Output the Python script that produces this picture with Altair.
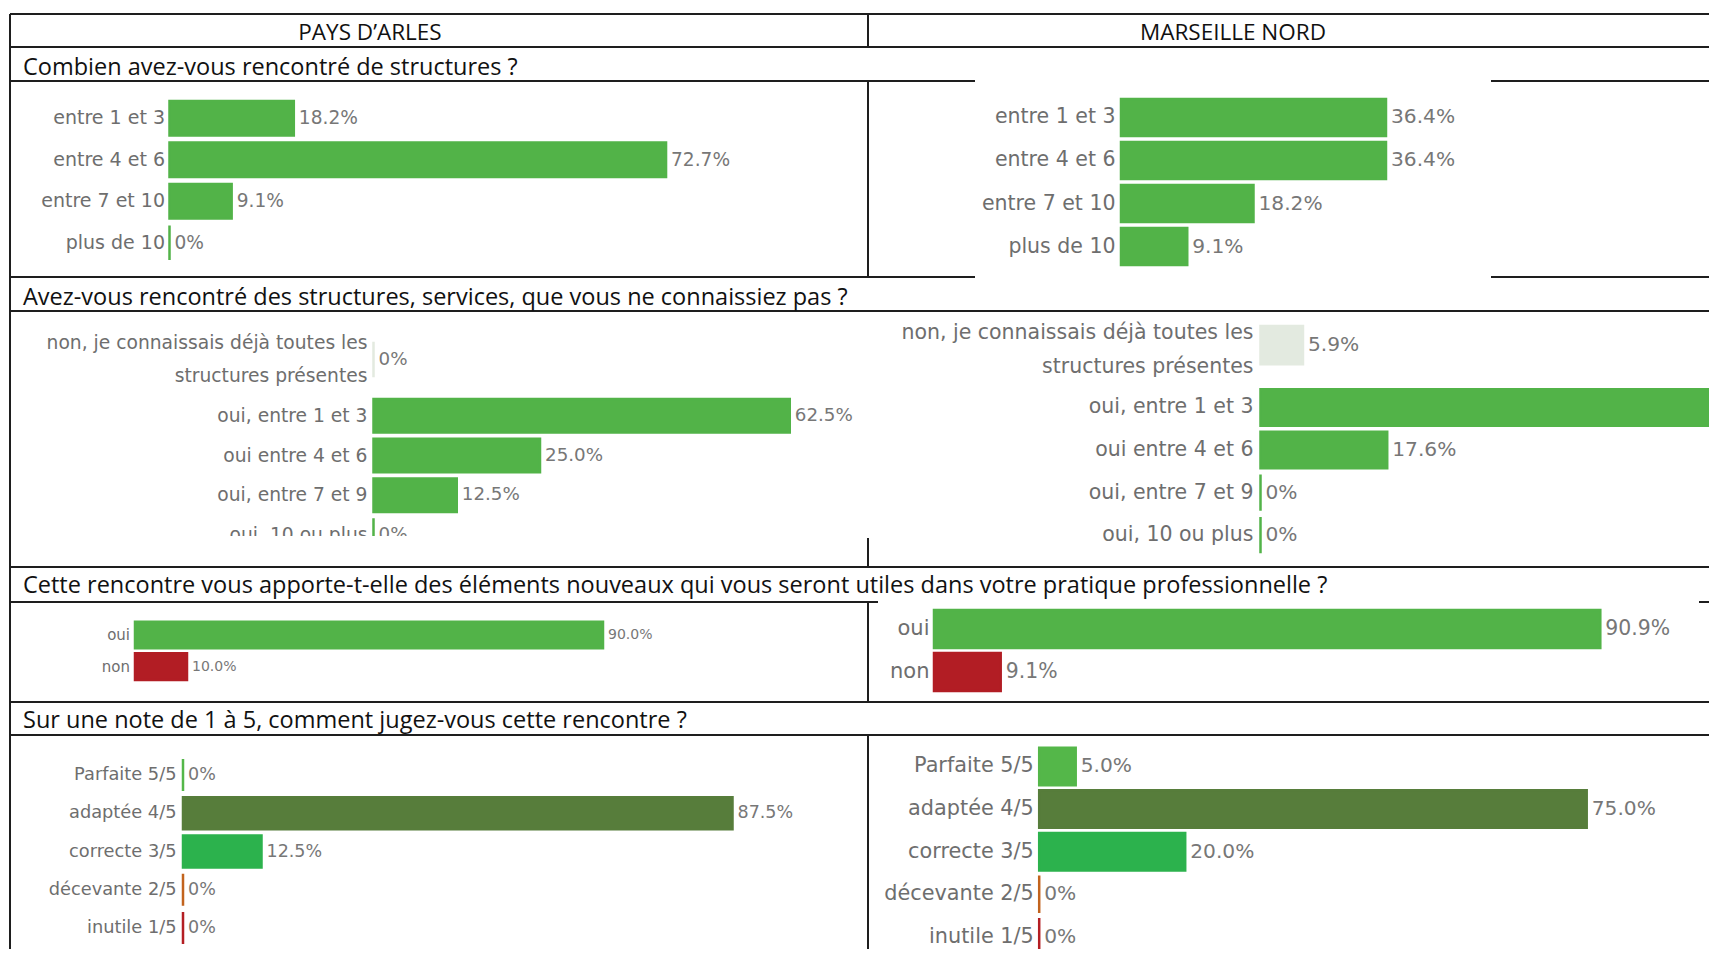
import altair as alt
import pandas as pd

# ---------------- data ----------------
columns = ["PAYS D’ARLES", "MARSEILLE NORD"]
questions = [
    "Combien avez-vous rencontré de structures ?",
    "Avez-vous rencontré des structures, services, que vous ne connaissiez pas ?",
    "Cette rencontre vous apporte-t-elle des éléments nouveaux qui vous seront utiles dans votre pratique professionnelle ?",
    "Sur une note de 1 à 5, comment jugez-vous cette rencontre ?",
]
q1_cats = ["entre 1 et 3", "entre 4 et 6", "entre 7 et 10", "plus de 10"]
q1_arles = [18.2, 72.7, 9.1, 0]
q1_marseille = [36.4, 36.4, 18.2, 9.1]

q2_cats = ["non, je connaissais déjà toutes les|structures présentes",
           "oui, entre 1 et 3", "oui entre 4 et 6", "oui, entre 7 et 9", "oui, 10 ou plus"]
q2_arles = [0, 62.5, 25.0, 12.5, 0]
q2_marseille = [5.9, 76.5, 17.6, 0, 0]

q3_cats = ["oui", "non"]
q3_arles = [90.0, 10.0]
q3_marseille = [90.9, 9.1]

q4_cats = ["Parfaite 5/5", "adaptée 4/5", "correcte 3/5", "décevante 2/5", "inutile 1/5"]
q4_arles = [0, 87.5, 12.5, 0, 0]
q4_marseille = [5.0, 75.0, 20.0, 0, 0]

# ---------------- styles ----------------
GREEN = "#52b348"
q1_colors = [GREEN] * 4
q2_colors = ["#e3eae0", GREEN, GREEN, GREEN, GREEN]
q3_colors = [GREEN, "#b21d24"]
q4_colors = ["#54b749", "#577d3b", "#2cb24d", "#c2631d", "#b41e23"]

LF = "DejaVu Sans"
TF = "Open Sans"
OX, OY = 8, 8          # page margin
W, H = 1701, 941       # keep the page from overflowing the window

def panel(cats, vals, colors, x0, k, y0, y1, pad, lab_r, lfs, vfs, line_h=None, dy=0):
    df = pd.DataFrame({"cat": cats, "value": vals, "color": colors})
    xs = alt.Scale(domain=[0, 100], range=[x0 - OX, x0 - OX + 100 * k], zero=True)
    ys = alt.Scale(domain=cats, range=[y0 - OY, y1 - OY], paddingInner=pad, paddingOuter=0)
    X = alt.X("value:Q", scale=xs, axis=None)
    Y = alt.Y("cat:N", scale=ys, axis=None, sort=cats)
    base = alt.Chart(df)
    bars = base.mark_bar(strokeWidth=2.5).encode(
        x=X, y=Y,
        color=alt.Color("color:N", scale=None),
        stroke=alt.Stroke("color:N", scale=None),
    )
    vtext = base.transform_calculate(
        lab="datum.value == 0 ? '0%' : format(datum.value, '.1f') + '%'"
    ).mark_text(align="left", baseline="middle", dx=5, fontSize=vfs, font=LF,
                color="#777777").encode(x=X, y=Y, text="lab:N")
    kw = dict(align="right", baseline="middle", fontSize=lfs, font=LF,
              color="#6e6e6e", lineBreak="|", dy=dy)
    if line_h:
        kw["lineHeight"] = line_h
    ltext = base.mark_text(**kw).encode(x=alt.value(lab_r - OX), y=Y, text="cat:N")
    return alt.layer(bars, vtext, ltext)

layers = []
# Q1
layers.append(panel(q1_cats, q1_arles, q1_colors, 169.5, 6.83, 101, 260, 0.165, 165, 19, 18.6))
layers.append(panel(q1_cats, q1_marseille, q1_colors, 1121, 7.28, 99, 265, 0.14, 1115.5, 20.5, 20.2))
# Q2 (first answer has a taller row because of its two-line label)
layers.append(panel(q2_cats[:1], q2_arles[:1], q2_colors[:1], 373.5, 6.66, 341.7, 377.3, 0, 367.5, 18.7, 18.3, line_h=33, dy=-16.5))
layers.append(panel(q2_cats[1:], q2_arles[1:], q2_colors[1:], 373.5, 6.66, 399, 551.8, 0.158, 367.5, 18.7, 18.3))
# crop of the pasted Arles screenshot
mask = alt.Chart(pd.DataFrame({"a": [0]})).mark_rect(color="white").encode(
    x=alt.value(12 - OX), x2=alt.value(866 - OX), y=alt.value(536 - OY), y2=alt.value(566 - OY))
layers.append(mask)
layers.append(panel(q2_cats[:1], q2_marseille[:1], q2_colors[:1], 1260.5, 7.2, 326, 364.3, 0, 1253.5, 20.5, 20.2, line_h=34, dy=-12))
layers.append(panel(q2_cats[1:], q2_marseille[1:], q2_colors[1:], 1260.5, 7.2, 389.3, 553.3, 0.145, 1253.5, 20.5, 20.2))
# Q3
layers.append(panel(q3_cats, q3_arles, q3_colors, 135, 5.2, 621.7, 680, 0.158, 130, 15, 14))
layers.append(panel(q3_cats, q3_marseille, q3_colors, 934, 7.33, 610, 691, 0.12, 929.5, 21, 20.4))
# Q4
layers.append(panel(q4_cats, q4_arles, q4_colors, 183, 6.28, 759, 944, 0.16, 176.5, 17.8, 17.5))
layers.append(panel(q4_cats, q4_marseille, q4_colors, 1039.2, 7.3, 747.7, 955.6, 0.12, 1033.8, 20.8, 20.2))

# table rules (layout)
h_lines = [(14, 10, 1717), (47, 10, 1717), (81, 10, 975), (81, 1491, 1717),
           (277, 10, 975), (277, 1491, 1717), (311, 10, 1717), (567, 10, 1717),
           (602, 10, 878), (602, 1699, 1717), (702, 10, 1717), (735, 10, 1717)]
v_lines = [(10, 14, 957), (868, 14, 47), (868, 81, 277), (868, 538, 567),
           (868, 602, 702), (868, 735, 957)]
seg = [dict(x=a - OX, x2=b - OX, y=y - OY, y2=y - OY) for y, a, b in h_lines] + \
      [dict(x=x - OX, x2=x - OX, y=a - OY, y2=b - OY) for x, a, b in v_lines]
rules = alt.Chart(pd.DataFrame(seg)).mark_rule(color="#1e1e1e", strokeWidth=2).encode(
    x=alt.X("x:Q", scale=None, axis=None), x2="x2:Q",
    y=alt.Y("y:Q", scale=None, axis=None), y2="y2:Q")
layers.append(rules)

# header texts
hdr_x = [370, 1233]
for name, cx in zip(columns, hdr_x):
    layers.append(alt.Chart(pd.DataFrame({"t": [name]})).mark_text(
        font=TF, fontSize=22.5, color="#111111", align="center", baseline="alphabetic"
    ).encode(x=alt.value(cx - OX), y=alt.value(40 - OY), text="t:N"))

q_base = [75, 305, 593, 728]
for q, by in zip(questions, q_base):
    layers.append(alt.Chart(pd.DataFrame({"t": [q]})).mark_text(
        font=TF, fontSize=23.5, color="#111111", align="left", baseline="alphabetic"
    ).encode(x=alt.value(23 - OX), y=alt.value(by - OY), text="t:N"))

chart = alt.layer(*layers).resolve_scale(
    x="independent", y="independent"
).properties(
    width=W, height=H, padding=0, autosize=alt.AutoSizeParams(type="none")
).configure_view(stroke=None)

chart.save("out.html", embed_options={"renderer": "svg", "actions": False})
